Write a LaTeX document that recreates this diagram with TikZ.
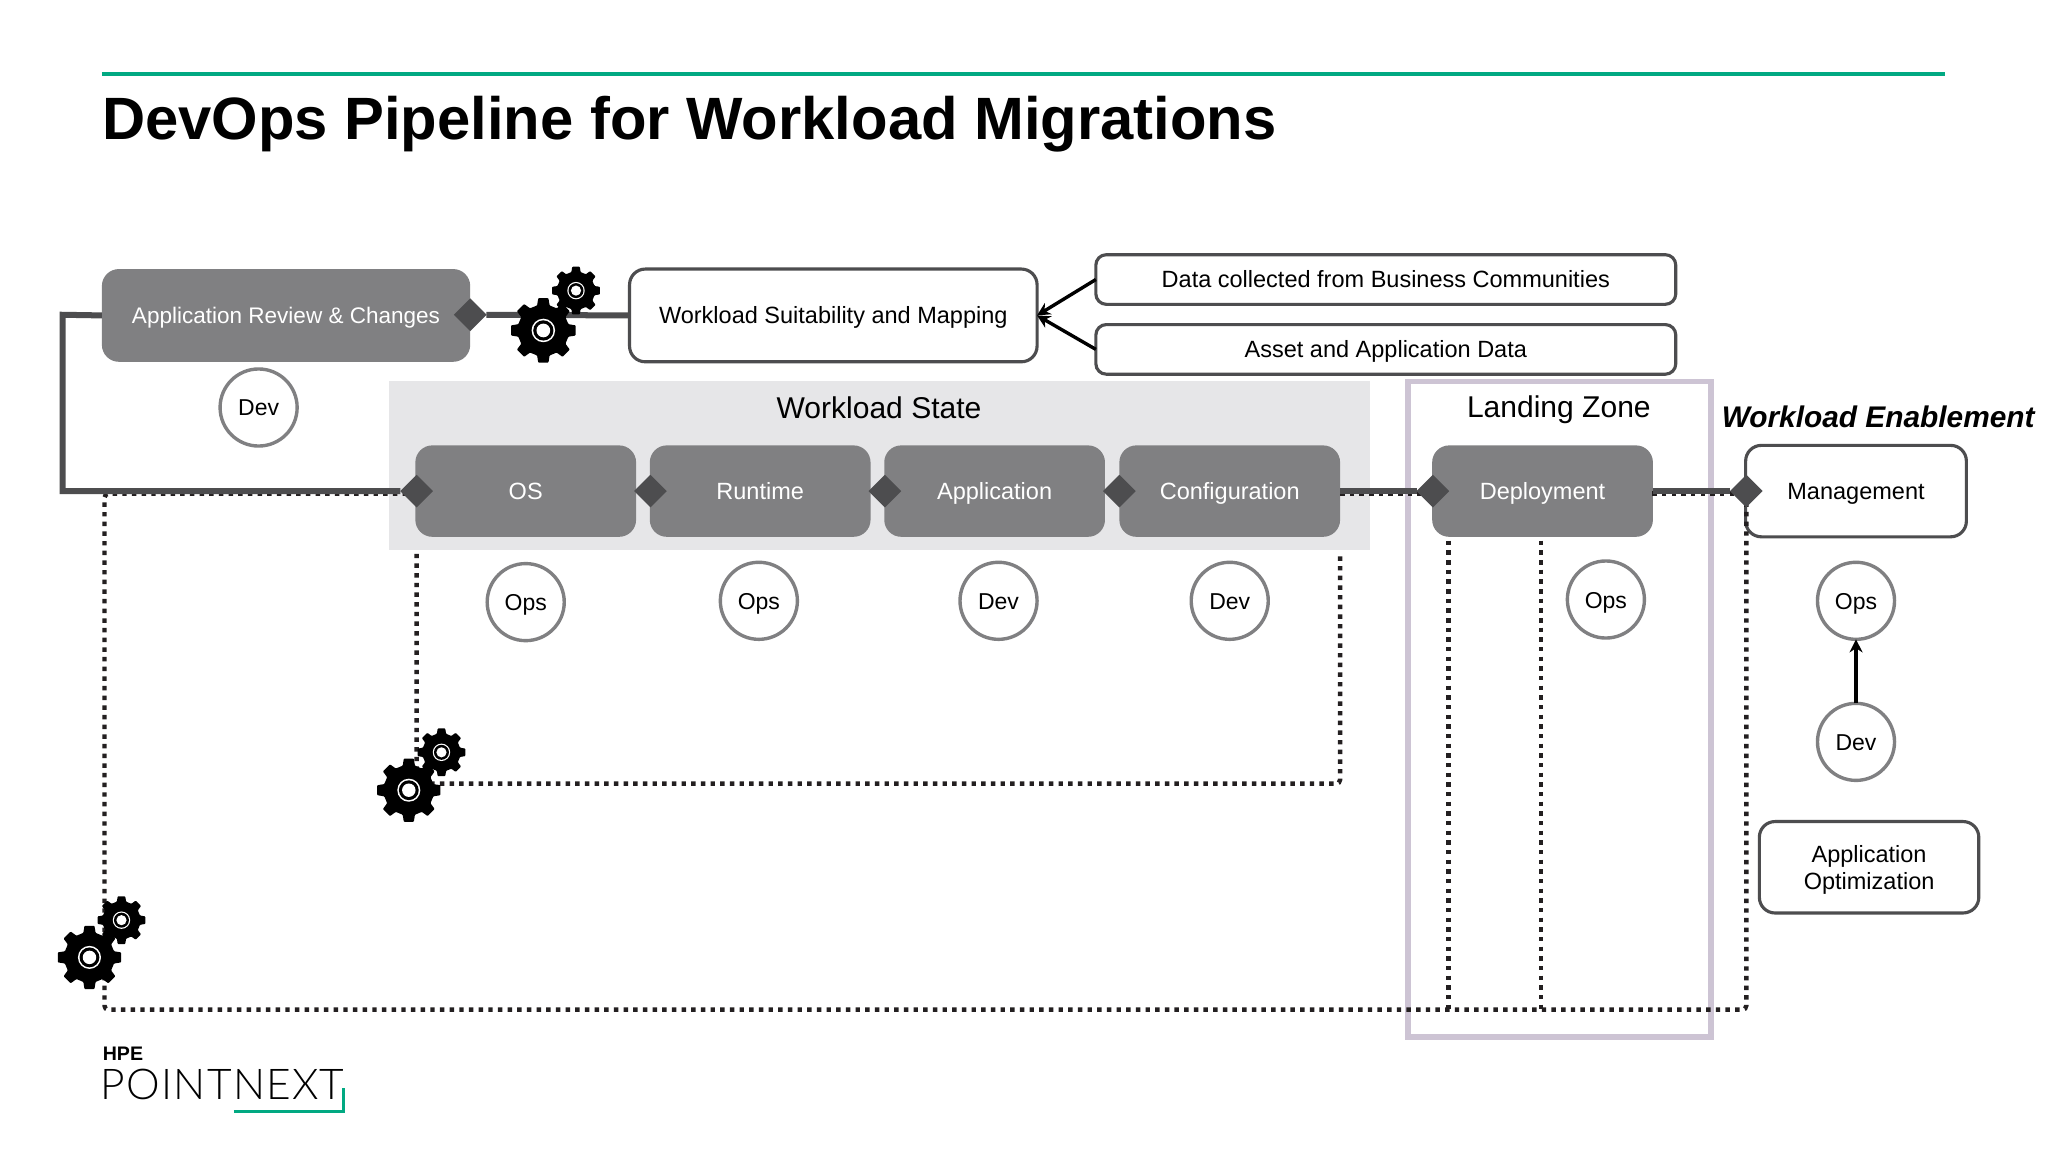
\documentclass[tikz,border=0pt]{standalone}
\usepackage{fontspec}
\setmainfont{Liberation Sans}
\newfontfamily\logofont{Lato Light}[LetterSpace=3]
\usetikzlibrary{shapes.geometric,arrows.meta}
\definecolor{hpegreen}{HTML}{01A982}
\definecolor{boxgray}{HTML}{808082}
\definecolor{darkline}{HTML}{4D4D4F}
\definecolor{statebg}{HTML}{E6E6E8}
\definecolor{zoneline}{HTML}{CDC4D4}
\definecolor{dotcol}{HTML}{231F20}
\tikzset{
  oneline/.style={text height=13pt,text depth=0pt},
  box/.style={draw=none,fill=boxgray,rounded corners=13pt,inner sep=0pt,outer sep=0pt,text=white,align=center,font=\fontsize{18}{21}\selectfont},
  stage/.style={box,oneline,minimum width=169pt,minimum height=70pt},
  wbox/.style={draw=darkline,line width=2.4pt,fill=white,rounded corners=12pt,inner sep=0pt,outer sep=0pt,text=black,align=center,font=\fontsize{18}{21}\selectfont},
  role/.style={circle,oneline,draw=boxgray,line width=2.6pt,fill=white,minimum size=59pt,inner sep=0pt,outer sep=0pt,font=\fontsize{17.6}{21}\selectfont},
  gate/.style={diamond,aspect=1,fill=darkline,minimum size=25pt,inner sep=0pt,outer sep=0pt},
  pipe/.style={draw=darkline,line width=4.6pt,line join=miter},
  dots/.style={draw=dotcol,line width=3.4pt,dash pattern=on 3.4pt off 4pt,rounded corners=3pt},
  tip/.style={draw=black,line width=2.6pt,-{Stealth[length=10pt,width=10pt]}},
  hdr/.style={font=\fontsize{23}{26}\selectfont,inner sep=0pt},
  gear/.pic={
    \fill[black,rounded corners=0.6pt] (-14:.79)
      \foreach \a in {0,45,...,315} { -- (\a-14:.79) -- (\a-9:1) -- (\a+9:1) -- (\a+14:.79) } -- cycle;
    \fill[white] (0,0) circle (.36);
    \fill[black] (0,0) circle (.31);
    \fill[white] (0,0) circle (.21);
  }
}
\begin{document}
\begin{tikzpicture}[x=1pt,y=-1pt]
  \useasboundingbox (0,0) rectangle (1568,882);
  \fill[white] (0,0) rectangle (1568,882);

  % title
  \draw[hpegreen,line width=3pt] (78,57) -- (1489,57);
  \node[anchor=west,inner sep=0pt,font=\fontsize{45.75}{50}\selectfont\bfseries] (title) at (78,95) {DevOps Pipeline for Workload Migrations};

  % state band and landing zone
  \fill[statebg] (298,292) rectangle (1049,421);
  \draw[zoneline,line width=4pt] (1078,292) rectangle (1310,794);
  \node[hdr] (lstate) at (673,312) {Workload State};
  \node[hdr] (lzone) at (1193.5,313.5) {Landing Zone};
  \node[anchor=west,inner sep=0pt,font=\fontsize{22.85}{26}\selectfont\bfseries\itshape] (lenable) at (1318,319) {Workload Enablement};

  % top row
  \node[box,oneline,minimum width=282pt,minimum height=71pt,font=\fontsize{17.25}{21}\selectfont] (arc) at (219,241.5) {Application Review \& Changes};
  \node[wbox,oneline,minimum width=312pt,minimum height=71pt] (suit) at (638,241.5) {Workload Suitability and Mapping};
  \node[wbox,oneline,minimum width=444pt,minimum height=38pt,rounded corners=8pt] (data) at (1061,214) {Data collected from Business Communities};
  \node[wbox,oneline,minimum width=444pt,minimum height=38pt,rounded corners=8pt] (asset) at (1061,267.5) {Asset and Application Data};

  % stages
  \node[stage] (os) at (402.5,376) {OS};
  \node[stage] (run) at (582,376) {Runtime};
  \node[stage] (app) at (761.5,376) {Application};
  \node[stage] (conf) at (941.5,376) {Configuration};
  \node[stage] (dep) at (1181,376) {Deployment};
  \node[wbox,oneline,minimum width=169pt,minimum height=70pt] (mgmt) at (1421,376) {Management};
  \node[wbox,minimum width=168pt,minimum height=70pt] (opt) at (1431,664) {\rule{0pt}{17pt}Application\\Optimization};

  % roles
  \node[role] (r0) at (198,312) {Dev};
  \node[role] (r1) at (402.5,461) {Ops};
  \node[role] (r2) at (581,460) {Ops};
  \node[role] (r3) at (764.5,460) {Dev};
  \node[role] (r4) at (941.5,460) {Dev};
  \node[role] (r5) at (1229.5,459) {Ops};
  \node[role] (r6) at (1421,460) {Ops};
  \node[role] (r7) at (1421,568) {Dev};

  % feedback loops
  \coordinate (a1) at (80,378);
  \coordinate (a2) at (80,773);
  \coordinate (a3) at (1337,773);
  \coordinate (a4) at (1337,378);
  \coordinate (a5) at (319,378);
  \coordinate (b1) at (319,424);
  \coordinate (b2) at (319,600);
  \coordinate (b3) at (1026,600);
  \coordinate (b4) at (1026,424);
  \coordinate (c1) at (1109,414);
  \coordinate (c2) at (1109,773);
  \coordinate (c3) at (1180,414);
  \coordinate (c4) at (1180,773);
  \coordinate (e1) at (1026,378);
  \coordinate (e2) at (1097,378);
  \coordinate (e3) at (1265,378);
  \coordinate (e4) at (1337,378);
  \draw[dots] (a5) -- (a1) -- (a2) -- (a3) -- (a4);
  \draw[dots] (b1) -- (b2) -- (b3) -- (b4);
  \draw[dots] (c1) -- (c2);
  \draw[dots] (c3) -- (c4);
  \draw[dots] (e1) -- (e2);
  \draw[dots] (e3) -- (e4);

  % gates
  \node[gate] (g0) at (360,241) {};
  \node[gate] (g1) at (319,376) {};
  \node[gate] (g2) at (498,376) {};
  \node[gate] (g3) at (677.5,376) {};
  \node[gate] (g4) at (857,376) {};
  \node[gate] (g5) at (1097,376) {};
  \node[gate] (g6) at (1337,376) {};

  % pipeline
  \coordinate (l1) at (48,241);
  \coordinate (l2) at (48,376);
  \draw[pipe] (arc.west) -- (l1) -- (l2) -- (g1);
  \draw[pipe] (g0) -- (suit.west);
  \draw[pipe] (conf.east) -- (g5);
  \draw[pipe] (dep.east) -- (g6);

  % inputs
  \coordinate (s1) at (794,241.5);
  \draw[tip] (data.west) -- (s1);
  \draw[tip] (asset.west) -- (s1);
  \draw[tip] (r7) -- (r6);

  % gears
  \pic[scale=25] at (416,253) {gear};
  \pic[scale=18.5] at (441,222.5) {gear};
  \pic[scale=24.5] at (313,605) {gear};
  \pic[scale=18.5] at (338,576) {gear};
  \pic[scale=24.5] at (68.5,733) {gear};
  \pic[scale=18.5] at (93,704.5) {gear};

  % logo
  \node[anchor=west,inner sep=0pt,font=\fontsize{15}{17}\selectfont\bfseries] (hpe) at (78.5,807) {HPE};
  \node[anchor=west,inner sep=0pt,font=\logofont\fontsize{32.5}{36}\selectfont] (pn) at (77,830.5) {POINTNEXT};
  \draw[hpegreen,line width=2pt] (179,851) -- (263,851) -- (263,833);
\end{tikzpicture}
\end{document}
